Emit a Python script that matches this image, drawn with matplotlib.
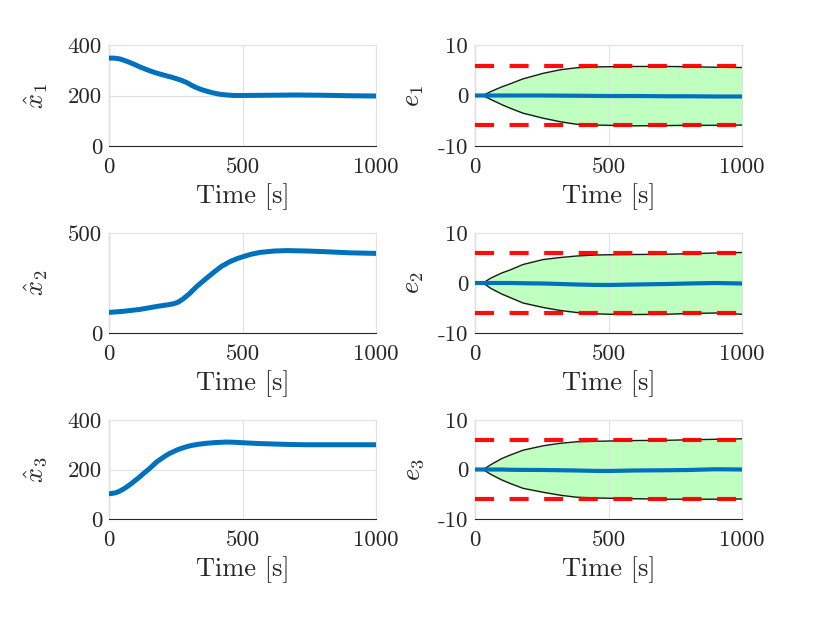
import numpy as np
import matplotlib
matplotlib.use("Agg")
import matplotlib.pyplot as plt

plt.rcParams['font.family'] = ['cmr10']
plt.rcParams['mathtext.fontset'] = 'cm'
plt.rcParams['axes.unicode_minus'] = False
plt.rcParams['lines.scale_dashes'] = False

# state estimates (blue) and true states (black)
t_x1 = [0, 20, 40, 60, 80, 100, 116, 140, 160, 184, 204, 236, 266, 290, 310, 328, 350,
        370, 391, 415, 441, 470, 500, 600, 700, 800, 900, 1000]
x1_hat = [348, 348, 345, 338, 330, 321, 313, 303, 295, 287, 281, 272, 262, 252, 240, 231, 222,
          216, 210, 205, 202, 200, 200, 201, 202, 201, 199, 198]
x1_true = [348, 348, 345, 338, 330, 321, 313, 303, 295, 287, 281, 272, 262, 252, 240, 231, 222,
           216, 210, 205, 203, 202, 202, 203, 203, 203, 202, 202]

t_x2 = [0, 50, 116, 180, 220, 241, 255, 266, 280, 300, 328, 360, 391, 420, 453, 480, 503, 530,
        566, 620, 666, 740, 803, 900, 1000]
x2_hat = [103, 108, 118, 133, 141, 146, 152, 160, 173, 195, 232, 268, 302, 332, 357, 372, 382, 393,
          403, 410, 412, 410, 407, 401, 398]
x2_true = [103, 108, 118, 133, 141, 146, 152, 160, 173, 195, 232, 268, 302, 332, 357, 372, 382, 393,
           403, 410, 412, 410, 407, 401, 399]

t_x3 = [0, 10, 20, 30, 41, 60, 80, 100, 116, 135, 150, 165, 179, 195, 210, 225, 241, 255, 270,
        287, 304, 335, 366, 400, 441, 470, 503, 560, 616, 680, 741, 850, 1000]
x3_hat = [102, 103, 105, 108, 113, 125, 140, 157, 171, 189, 202, 217, 231, 243, 254, 264, 272, 279, 285,
          291, 296, 302, 306, 309, 311, 310, 308, 305, 303, 301, 300, 300, 300]
x3_true = [102, 103, 105, 108, 113, 125, 140, 157, 171, 189, 202, 217, 231, 243, 254, 264, 272, 279, 285,
           291, 296, 302, 306, 309, 310, 308, 306, 302, 300, 298, 297, 296, 296]

# estimation errors and their bounds
t_e = [0, 30, 60, 100, 131, 180, 256, 320, 381, 450, 500, 600, 718, 800, 900, 1000]
e1 = [0, 0, 0, 0, 0, 0, 0, -0.03, -0.05, -0.08, -0.1, -0.1, -0.15, -0.15, -0.2, -0.2]
e1_up = [0, 0, 0.8, 1.7, 2.3, 3.3, 4.4, 5.1, 5.5, 5.65, 5.7, 5.75, 5.75, 5.7, 5.6, 5.55]
e1_lo = [0, 0, -0.8, -1.8, -2.5, -3.5, -4.5, -5.2, -5.7, -5.85, -5.9, -6.0, -5.95, -5.9, -5.9, -5.85]
e2 = [0, 0, 0, 0, 0, -0.05, -0.1, -0.2, -0.3, -0.38, -0.4, -0.3, -0.2, -0.1, 0, -0.1]
e2_up = [0, 0, 1.0, 2.0, 2.6, 3.7, 4.7, 5.1, 5.4, 5.6, 5.65, 5.7, 5.75, 5.85, 6.0, 6.1]
e2_lo = [0, 0, -1.1, -2.2, -2.9, -4.0, -4.9, -5.5, -5.9, -6.15, -6.25, -6.3, -6.25, -6.1, -6.0, -6.25]
e3 = [0, 0, 0, 0, -0.05, -0.08, -0.1, -0.15, -0.2, -0.28, -0.3, -0.2, -0.15, -0.1, 0.05, 0]
e3_up = [0, 0, 1.0, 2.2, 2.9, 3.9, 4.8, 5.3, 5.6, 5.7, 5.75, 5.85, 5.9, 6.0, 6.1, 6.2]
e3_lo = [0, 0, -1.0, -2.1, -2.8, -3.8, -4.6, -5.2, -5.6, -5.75, -5.8, -5.9, -6.0, -6.0, -6.0, -5.95]
e_limits = [5.8, 6.0, 6.0]

blue = '#0072BD'
dark = '#262626'

fig = plt.figure(figsize=(8.3, 6.23), dpi=100)

lefts = [109 / 830, 475 / 830]
w = 267 / 830
rows = [(45, 146), (233, 333), (420, 519)]

xs = [(t_x1, x1_hat, x1_true, [0, 200, 400], (0, 400), r'$\hat{x}_1$'),
      (t_x2, x2_hat, x2_true, [0, 500], (0, 500), r'$\hat{x}_2$'),
      (t_x3, x3_hat, x3_true, [0, 200, 400], (0, 400), r'$\hat{x}_3$')]
es = [(e1, e1_up, e1_lo, r'$e_1$'), (e2, e2_up, e2_lo, r'$e_2$'), (e3, e3_up, e3_lo, r'$e_3$')]


def style(ax, yticks, ylim, lab, labx):
    ax.set_xlim(0, 1000)
    ax.set_ylim(*ylim)
    ax.set_xticks([0, 500, 1000])
    ax.set_yticks(yticks)
    ax.set_yticklabels([str(v) for v in yticks])
    ax.grid(True, color='#e2e2e2', linewidth=0.8, zorder=1.5)
    ax.set_axisbelow(False)
    for s in ['top', 'right']:
        ax.spines[s].set_color('#e2e2e2')
    for s in ['left', 'bottom']:
        ax.spines[s].set_color(dark)
        ax.spines[s].set_linewidth(0.8)
    ax.tick_params(direction='in', length=0, labelsize=16.5, colors=dark)
    ax.tick_params(axis='y', pad=5)
    ax.tick_params(axis='x', pad=8)
    ax.set_xlabel('Time [s]', fontsize=19, color=dark, labelpad=5)
    ax.set_ylabel(lab, fontsize=19, color=dark)
    ax.yaxis.set_label_coords(labx, 0.5)


for i, (top, bot) in enumerate(rows):
    b = 1 - bot / 623
    h = (bot - top) / 623

    t, xh, xt, yt, yl, lab = xs[i]
    ax = fig.add_axes([lefts[0], b, w, h])
    ax.plot(t, xt, color='black', linewidth=1.5, zorder=3)
    ax.plot(t, xh, color=blue, linewidth=3.6, zorder=4)
    style(ax, yt, yl, lab, -0.22)

    e, up, lo, lab = es[i]
    ax = fig.add_axes([lefts[1], b, w, h])
    ax.fill_between(t_e[1:], lo[1:], up[1:], color='#bfffbf', zorder=1)
    ax.plot(t_e[1:], up[1:], color='#1a1a1a', linewidth=1.0, zorder=3)
    ax.plot(t_e[1:], lo[1:], color='#1a1a1a', linewidth=1.0, zorder=3)
    lim = e_limits[i]
    for v in (lim, -lim):
        ax.plot([0, 1000], [v, v], color='#ff0000', linewidth=3.0,
                dashes=(13.7, 11.2), zorder=5, alpha=0.95)
    ax.plot(t_e, e, color=blue, linewidth=3.0, zorder=4)
    style(ax, [-10, 0, 10], (-10, 10), lab, -0.185)

fig.savefig('out.png', dpi=100)
